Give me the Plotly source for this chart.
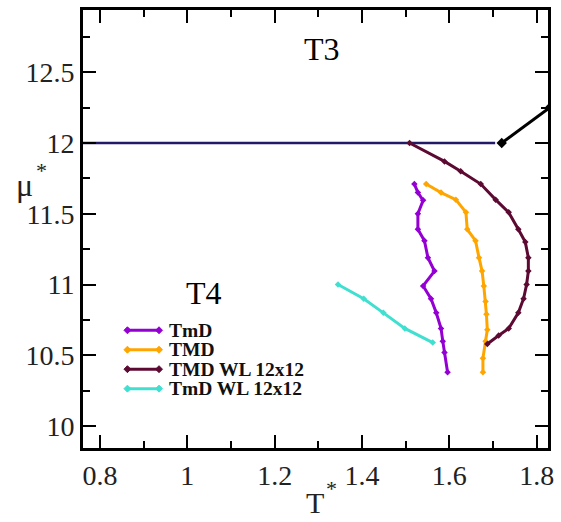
import plotly.graph_objects as go

# Phase-line data in reduced units (T*, mu*)
tmd_x = [1.547, 1.581, 1.615, 1.638, 1.641, 1.660, 1.668, 1.675, 1.679, 1.683,
         1.685, 1.687, 1.683, 1.677, 1.677]
tmd_y = [11.71, 11.65, 11.60, 11.51, 11.39, 11.31, 11.19, 11.095, 10.99, 10.88,
         10.79, 10.68, 10.60, 10.48, 10.38]

tmind_x = [1.520, 1.528, 1.540, 1.528, 1.528, 1.543, 1.551, 1.566, 1.540, 1.558,
           1.570, 1.581, 1.585, 1.589, 1.596]
tmind_y = [11.71, 11.65, 11.595, 11.50, 11.39, 11.31, 11.19, 11.095, 10.99, 10.90,
           10.80, 10.69, 10.60, 10.52, 10.38]

tmd_wl_x = [1.509, 1.589, 1.626, 1.672, 1.706, 1.736, 1.758, 1.774, 1.781, 1.781,
            1.777, 1.770, 1.758, 1.736, 1.713, 1.687]
tmd_wl_y = [12.00, 11.87, 11.80, 11.71, 11.60, 11.51, 11.39, 11.30, 11.19, 11.095,
            11.00, 10.90, 10.80, 10.69, 10.64, 10.58]

tmind_wl_x = [1.345, 1.404, 1.449, 1.498, 1.562]
tmind_wl_y = [11.00, 10.90, 10.80, 10.69, 10.59]

# T3 / T4 coexistence line and the line leaving its end point
coex_x = [0.70, 1.705]
coex_y = [12.0, 12.0]
upper_x = [1.72, 1.83]
upper_y = [12.0, 12.25]

series_names = ["TmD", "TMD", "TMD WL 12x12", "TmD WL 12x12"]
series_colors = ["#9400d3", "#ffa500", "#5c0a32", "#40e0d0"]

x_range = [0.761, 1.826]
y_range = [9.845, 12.94]

fig = go.Figure()

fig.add_trace(go.Scatter(x=coex_x, y=coex_y, mode="lines",
                         line=dict(color="#221a66", width=2.5), showlegend=False))
fig.add_trace(go.Scatter(x=upper_x, y=upper_y, mode="lines+markers",
                         line=dict(color="black", width=3),
                         marker=dict(symbol="diamond", size=8, color="black"),
                         showlegend=False))

curves = [(tmind_x, tmind_y), (tmd_x, tmd_y), (tmd_wl_x, tmd_wl_y), (tmind_wl_x, tmind_wl_y)]
for (xs, ys), name, color in zip(curves, series_names, series_colors):
    fig.add_trace(go.Scatter(
        x=xs, y=ys, mode="lines+markers", name=name,
        line=dict(color=color, width=3),
        marker=dict(symbol="diamond", size=5, color=color),
        showlegend=False,
    ))

# Hand-drawn legend: short line samples with diamond ends plus bold labels
l_ml, l_mr, l_mt, l_mb = 83, 7, 9, 74
W, H = 561, 522
pw, ph = W - l_ml - l_mr, H - l_mt - l_mb


def px_to_paper(px, py):
    return (px - l_ml) / pw, (H - l_mb - py) / ph


shapes = []
annotations = []
row0, row_gap = 330, 19.5
for i, (name, color) in enumerate(zip(series_names, series_colors)):
    py = row0 + i * row_gap
    x0, y0 = px_to_paper(128, py)
    x1, _ = px_to_paper(160, py)
    shapes.append(dict(type="line", xref="paper", yref="paper", x0=x0, x1=x1, y0=y0, y1=y0,
                       line=dict(color=color, width=3)))
    for ex in (128, 160):
        cx, cy = px_to_paper(ex, py)
        dx, dy = 3.5 / pw, 3.5 / ph
        shapes.append(dict(type="path", xref="paper", yref="paper",
                           path=f"M {cx-dx} {cy} L {cx} {cy+dy} L {cx+dx} {cy} L {cx} {cy-dy} Z",
                           fillcolor=color, line=dict(color=color, width=1)))
    tx, ty = px_to_paper(168, py)
    annotations.append(dict(xref="paper", yref="paper", x=tx, y=ty, text=f"<b>{name}</b>",
                            showarrow=False, xanchor="left", yanchor="middle",
                            font=dict(family="Liberation Serif", size=19.5, color="#111")))


def paper_label(px, py, text, size):
    x, y = px_to_paper(px, py)
    return dict(xref="paper", yref="paper", x=x, y=y, text=text, showarrow=False,
                xanchor="center", yanchor="middle",
                font=dict(family="Liberation Serif", size=size, color="#222"))


annotations += [
    dict(x=1.308, y=12.665, text="T3", showarrow=False,
         font=dict(family="Liberation Serif", size=32, color="black")),
    dict(x=1.037, y=10.94, text="T4", showarrow=False,
         font=dict(family="Liberation Serif", size=32, color="black")),
    # axis titles: symbol and superscript star set separately
    paper_label(24, 184, "μ", 32),
    paper_label(41, 170, "*", 22),
    paper_label(318, 503, "T", 30),
    paper_label(335, 489, "*", 22),
]

axis_common = dict(
    showline=True, linecolor="black", linewidth=3, mirror="ticks",
    ticks="inside", ticklen=13, tickwidth=2, tickcolor="black",
    showgrid=False, zeroline=False,
    tickfont=dict(family="Liberation Serif", size=28, color="#222"),
)

fig.update_xaxes(range=x_range, dtick=0.2, tick0=0.8,
                 minor=dict(ticks="inside", dtick=0.1, ticklen=7, tickwidth=2,
                            tickcolor="black", showgrid=False),
                 **axis_common)
fig.update_yaxes(range=y_range, dtick=0.5, tick0=10,
                 minor=dict(ticks="inside", dtick=0.25, ticklen=7, tickwidth=2,
                            tickcolor="black", showgrid=False),
                 **axis_common)

fig.update_layout(
    width=W, height=H,
    margin=dict(l=l_ml, r=l_mr, t=l_mt, b=l_mb),
    paper_bgcolor="white", plot_bgcolor="white",
    showlegend=False,
    shapes=shapes, annotations=annotations,
)

fig.write_html("out.html")
